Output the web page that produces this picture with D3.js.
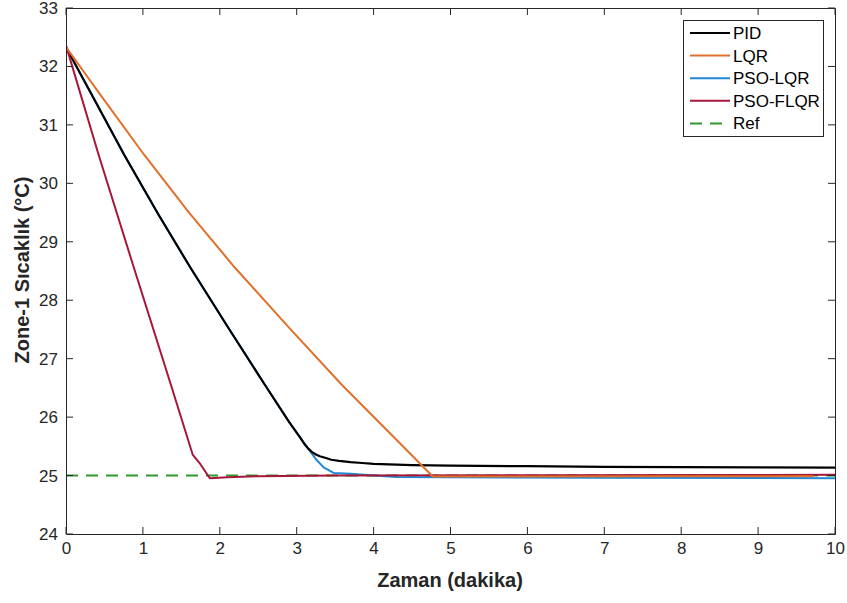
<!DOCTYPE html>
<html><head><meta charset="utf-8">
<script src="https://cdn.jsdelivr.net/npm/d3@7"></script>
<style>body{margin:0;background:#fff}svg{display:block}</style>
</head><body>
<svg id="c" width="847" height="603"></svg>
<script>
const xTicks = [0,1,2,3,4,5,6,7,8,9,10];
const yTicks = [24,25,26,27,28,29,30,31,32,33];
const seriesNames = ["PID","LQR","PSO-LQR","PSO-FLQR","Ref"];
const pidData = [[0,32.33],[0.3,31.6],[0.758,30.485],[1.2,29.47],[1.613,28.568],[2.1,27.55],[2.588,26.549],[2.9,25.92],[3.05,25.64],[3.1,25.54],[3.15,25.46],[3.2,25.4],[3.25,25.36],[3.3,25.33],[3.38,25.3],[3.45,25.27],[3.55,25.25],[3.7,25.23],[3.85,25.215],[4.0,25.2],[4.5,25.18],[5,25.17],[6,25.16],[7,25.15],[8,25.145],[9,25.14],[10,25.135]];
const lqrData = [[0,32.33],[0.5,31.42],[1.018,30.485],[1.6,29.5],[2.189,28.568],[2.9,27.53],[3.589,26.549],[4.2,25.74],[4.77,24.985],[6,24.985],[8,24.99],[9.72,24.99]];
const psoLqrData = [[0,32.33],[0.3,31.6],[0.758,30.485],[1.2,29.47],[1.613,28.568],[2.1,27.55],[2.588,26.549],[2.9,25.92],[3.05,25.64],[3.13,25.5],[3.25,25.28],[3.35,25.14],[3.48,25.045],[3.7,25.03],[4.0,25.0],[4.3,24.975],[5,24.97],[7,24.963],[10,24.955]];
const psoFlqrData = [[0,32.36],[0.425,30.485],[0.88,28.568],[1.365,26.549],[1.647,25.36],[1.75,25.19],[1.87,24.955],[2.1,24.97],[2.5,24.99],[3.5,25.0],[6,25.005],[10,25.012]];
const refData = [[0,25],[10,25]];

const colors = ["#000000","#e0702a","#1f87d6","#a8163a","#2e9a2e"];

const svg = d3.select("#c");
const m = {l:66, t:8, r:835, b:534};
const x = d3.scaleLinear().domain([0,10]).range([m.l, m.r]);
const y = d3.scaleLinear().domain([24,33]).range([m.b, m.t]);
const axisColor = "#262626";
const font = "'Liberation Sans', Arial, sans-serif";

svg.append("rect").attr("x",m.l).attr("y",m.t).attr("width",m.r-m.l).attr("height",m.b-m.t).attr("fill","#fff");

svg.append("defs").append("clipPath").attr("id","pc").append("rect")
  .attr("x",m.l).attr("y",m.t).attr("width",m.r-m.l).attr("height",m.b-m.t);

const line = d3.line().x(d=>x(d[0])).y(d=>y(d[1]));
const g = svg.append("g").attr("clip-path","url(#pc)");
g.append("path").datum(refData).attr("d",line).attr("fill","none").attr("stroke",colors[4]).attr("stroke-width",2).attr("stroke-dasharray","12,8");
g.append("path").datum(psoLqrData).attr("d",line).attr("fill","none").attr("stroke",colors[2]).attr("stroke-width",2).attr("stroke-linejoin","round");
g.append("path").datum(pidData).attr("d",line).attr("fill","none").attr("stroke",colors[0]).attr("stroke-width",2.2).attr("stroke-linejoin","round");
g.append("path").datum(psoFlqrData).attr("d",line).attr("fill","none").attr("stroke",colors[3]).attr("stroke-width",2).attr("stroke-linejoin","round");
g.append("path").datum(lqrData).attr("d",line).attr("fill","none").attr("stroke",colors[1]).attr("stroke-width",2).attr("stroke-linejoin","round");

// axes
const xb = svg.append("g").attr("transform",`translate(0,${m.b})`).call(d3.axisBottom(x).tickValues(xTicks).tickSize(0).tickPadding(8));
const xt = svg.append("g").attr("transform",`translate(0,${m.t})`).call(d3.axisTop(x).tickValues(xTicks).tickSize(0).tickFormat(""));
const yl = svg.append("g").attr("transform",`translate(${m.l},0)`).call(d3.axisLeft(y).tickValues(yTicks).tickSize(0).tickPadding(8));
const yr = svg.append("g").attr("transform",`translate(${m.r},0)`).call(d3.axisRight(y).tickValues(yTicks).tickSize(0).tickFormat(""));
[xb,xt,yl,yr].forEach(a=>{a.select(".domain").attr("stroke",axisColor).attr("stroke-width",1);
  a.selectAll("text").attr("fill",axisColor).style("font-family",font).style("font-size","17px");});
// inward ticks
xTicks.forEach(v=>{
  svg.append("line").attr("x1",x(v)).attr("x2",x(v)).attr("y1",m.b).attr("y2",m.b-7).attr("stroke",axisColor);
  svg.append("line").attr("x1",x(v)).attr("x2",x(v)).attr("y1",m.t).attr("y2",m.t+7).attr("stroke",axisColor);
});
yTicks.forEach(v=>{
  svg.append("line").attr("x1",m.l).attr("x2",m.l+7).attr("y1",y(v)).attr("y2",y(v)).attr("stroke",axisColor);
  svg.append("line").attr("x1",m.r).attr("x2",m.r-7).attr("y1",y(v)).attr("y2",y(v)).attr("stroke",axisColor);
});

svg.append("text").attr("x",450).attr("y",587).attr("text-anchor","middle")
  .style("font-family",font).style("font-size","20px").style("font-weight","bold").attr("fill",axisColor).text("Zaman (dakika)");
svg.append("text").attr("transform",`translate(29,270) rotate(-90)`).attr("text-anchor","middle")
  .style("font-family",font).style("font-size","20px").style("font-weight","bold").attr("fill",axisColor).text("Zone-1 Sıcaklık (°C)");

// legend
const lg = svg.append("g");
lg.append("rect").attr("x",683.5).attr("y",20.5).attr("width",140).attr("height",116).attr("fill","#fff").attr("stroke",axisColor).attr("stroke-width",1);
seriesNames.forEach((n,i)=>{
  const yy = 33 + i*22.6;
  lg.append("line").attr("x1",690).attr("x2",730).attr("y1",yy).attr("y2",yy).attr("stroke",colors[i]).attr("stroke-width",2)
    .attr("stroke-dasharray", i===4 ? "12,8" : null);
  lg.append("text").attr("x",733).attr("y",yy+6).style("font-family",font).style("font-size","17px").attr("fill","#000").text(n);
});
</script>
</body></html>
